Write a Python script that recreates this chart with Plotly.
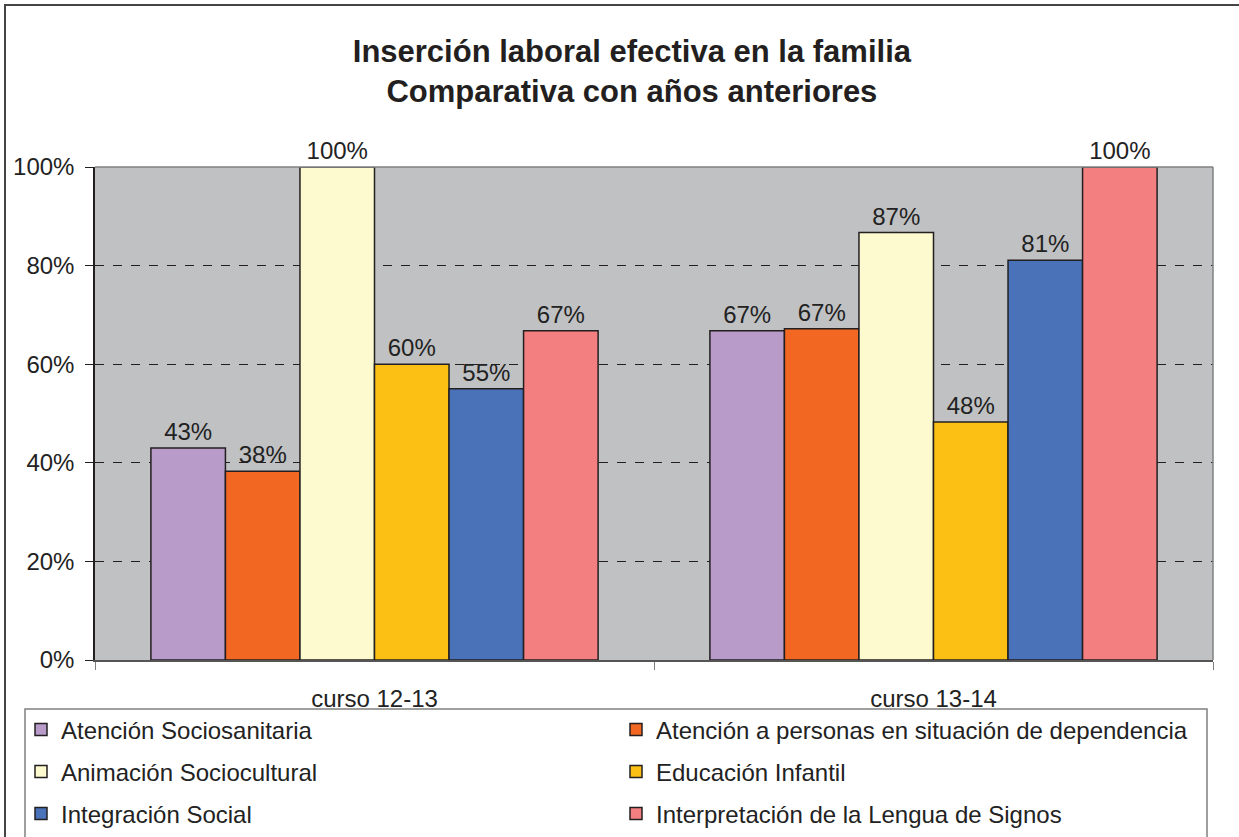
import plotly.graph_objects as go

categories = ["curso 12-13", "curso 13-14"]
series_names = [
    "Atención Sociosanitaria",
    "Atención a personas en situación de dependencia",
    "Animación Sociocultural",
    "Educación Infantil",
    "Integración Social",
    "Interpretación de la Lengua de Signos",
]
atencion_socio = [0.43, 0.668]
atencion_dep = [0.383, 0.672]
animacion = [1.00, 0.867]
educacion = [0.60, 0.483]
integracion = [0.55, 0.811]
interpretacion = [0.668, 1.00]
values = [atencion_socio, atencion_dep, animacion, educacion, integracion, interpretacion]
colors = ["#B89BC9", "#F26822", "#FDFACF", "#FCC015", "#4A72B8", "#F47F80"]
legend_ids = ["legend", "legend", "legend2", "legend2", "legend3", "legend3"]
ytick_vals = [0, 0.2, 0.4, 0.6, 0.8, 1.0]

W, H = 1239, 837
L, R, T, B = 95, 1213, 167, 660
pw, ph = R - L, B - T


def px_x(x):
    return (x - L) / pw


def px_y(y):
    return (B - y) / ph


FONT = "Liberation Sans, Arial, sans-serif"

fig = go.Figure()
for name, vals, col, lg in zip(series_names, values, colors, legend_ids):
    fig.add_trace(go.Bar(
        x=categories, y=vals, name=name,
        marker=dict(color=col, line=dict(color="#231F20", width=1.5)),
        texttemplate="%{y:.0%}", textposition="outside",
        textfont=dict(size=24, color="#222222", family=FONT),
        cliponaxis=False, legend=lg,
    ))

legend_common = dict(
    orientation="h", entrywidth=550, entrywidthmode="pixels",
    font=dict(size=24, color="#222222", family=FONT),
    bgcolor="rgba(0,0,0,0)", borderwidth=0,
    xanchor="left", yanchor="middle", x=px_x(21), traceorder="normal",
)

fig.update_layout(
    width=W, height=H,
    margin=dict(l=L, r=W - R, t=T, b=H - B, autoexpand=False),
    paper_bgcolor="white", plot_bgcolor="#C0C1C3",
    font=dict(family=FONT, color="#222222"),
    barmode="group", bargap=0.2, bargroupgap=0,
    title=dict(
        text="Inserción laboral efectiva en la familia<br>Comparativa con años anteriores",
        x=0.51, xanchor="center", y=1 - 62 / H, yanchor="middle",
        font=dict(size=31, color="#231F20", family=FONT, weight="bold"),
    ),
    legend=dict(**legend_common, y=px_y(730)),
    legend2=dict(**legend_common, y=px_y(772)),
    legend3=dict(**legend_common, y=px_y(814)),
    xaxis=dict(
        tickson="boundaries", ticks="outside", ticklen=8, tickcolor="#808080",
        showline=True, linecolor="#555555", linewidth=1.5, mirror=False,
        tickfont=dict(size=24, color="#222222"), ticklabelstandoff=16,
        showgrid=False,
    ),
    yaxis=dict(
        range=[0, 1.0], tickvals=ytick_vals, tickformat=".0%",
        ticks="outside", ticklen=8, tickcolor="#231F20",
        showline=True, linecolor="#231F20", linewidth=1.5,
        showgrid=True, gridcolor="#231F20", gridwidth=1, griddash="dash",
        zeroline=False, tickfont=dict(size=24, color="#222222"),
        ticklabelstandoff=6,
    ),
    shapes=[
        # outer chart frame
        dict(type="rect", xref="paper", yref="paper",
             x0=px_x(5), x1=px_x(W + 20), y0=px_y(H + 20), y1=px_y(5),
             line=dict(color="#444444", width=2), fillcolor="rgba(0,0,0,0)", layer="above"),
        # plot area top/right edges
        dict(type="line", xref="paper", yref="paper", x0=0, x1=1, y0=1, y1=1,
             line=dict(color="#808080", width=1.5)),
        dict(type="line", xref="paper", yref="paper", x0=1, x1=1, y0=0, y1=1,
             line=dict(color="#808080", width=1.5)),
        # legend box
        dict(type="rect", xref="paper", yref="paper",
             x0=px_x(25), x1=px_x(1207), y0=px_y(H + 20), y1=px_y(709),
             line=dict(color="#808080", width=1.5), fillcolor="rgba(0,0,0,0)"),
    ],
)

fig.write_html(
    "out.html",
    config={"displayModeBar": False},
    post_script="document.body.style.margin='0px';document.body.style.overflow='hidden';",
)
